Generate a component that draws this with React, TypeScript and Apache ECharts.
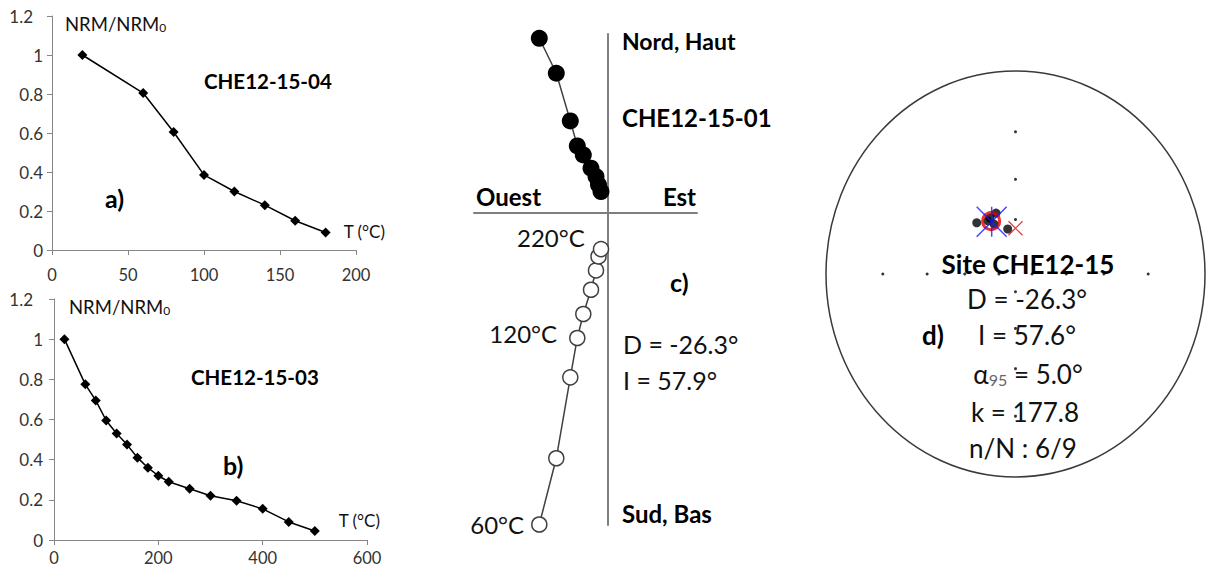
import React, { useEffect, useRef } from "react";
import * as echarts from "echarts";

// ---- Panel a: NRM/NRM0 vs T, CHE12-15-04
const A_TEMP = [20, 60, 80, 100, 120, 140, 160, 180];
const A_NRM = [1, 0.805, 0.605, 0.385, 0.3, 0.23, 0.15, 0.09];

// ---- Panel b: NRM/NRM0 vs T, CHE12-15-03
const B_TEMP = [20, 60, 80, 100, 120, 140, 160, 180, 200, 220, 260, 300, 350, 400, 450, 500];
const B_NRM = [1, 0.775, 0.695, 0.595, 0.53, 0.475, 0.41, 0.36, 0.32, 0.29, 0.255, 0.22, 0.195, 0.155, 0.09, 0.045];

// ---- Panel c: Zijderveld diagram, CHE12-15-01 (arbitrary units)
const C_STEPS = [60, 80, 100, 120, 140, 160, 180, 200, 220];
const C_EAST = [-6.87, -5.17, -3.77, -3.07, -2.47, -1.7, -1.2, -0.95, -0.7];
const C_NORTH = [17.47, 13.97, 9.2, 6.7, 5.8, 4.47, 3.63, 2.8, 2.13];
const C_UP = [-31.2, -24.57, -16.47, -12.53, -10.13, -7.7, -5.77, -4.37, -3.63];
const C_LABELLED_STEPS = [60, 120, 220];

// ---- Panel d: stereonet (Wulff), site CHE12-15
const D_SITE_DEC = [-39.0, -29.1, -24.7, -18.9, -10.5, -26.1];
const D_SITE_INC = [54.0, 56.7, 59.7, 54.8, 64.6, 55.9];
const D_MEAN = { dec: -26.3, inc: 57.6 };
const D_BLUE = { dec: -26.0, inc: 58.0 };
const D_GAD = { dec: 0, inc: 64.6 };
const NET_MARK_INC = [80, 60, 40, 20];
const NET_MARK_DEC = [0, 90, 180, 270];

// layout
const W = 1206;
const H = 574;
const FONT = "Lato";

function wulff(dec: number, inc: number): number[] {
  const r = Math.tan(((90 - inc) * Math.PI) / 360);
  const d = (dec * Math.PI) / 180;
  return [r * Math.sin(d), r * Math.cos(d)];
}

function txt(x: number, y: number, text: string, opts: any = {}) {
  const size = opts.size ?? 23;
  const weight = opts.bold ? "bold" : "normal";
  const align = opts.align ?? "left";
  return {
    type: "text",
    x,
    y,
    z: 50,
    style: {
      text,
      fontFamily: FONT,
      fontSize: size,
      fontWeight: weight,
      fill: opts.color ?? "#111",
      align,
      textAlign: align,
      verticalAlign: "middle",
      textVerticalAlign: "middle",
      rich: opts.rich,
    },
  };
}

const yLabelFormatter = (v: number) => {
  const s = String(Math.round(v * 10) / 10);
  return v > 1.1 ? "{top|" + s + "}" : s;
};

export default function App() {
  const ref = useRef<HTMLDivElement>(null);

  useEffect(() => {
    if (!ref.current) return;
    const chart = echarts.init(ref.current, undefined, { renderer: "svg" });

    const axisLineGray = { lineStyle: { color: "#868686", width: 1 } };
    const xTickLabel = { fontFamily: FONT, fontSize: 16.5, color: "#333" };
    const yTickLabel = {
      fontFamily: FONT, fontSize: 17, color: "#333", formatter: yLabelFormatter,
      rich: { top: { fontFamily: FONT, fontSize: 17, color: "#333", padding: [0, 10, 0, 0] } },
    };

    // panel d geometry
    const dGrid = { left: 826, top: 71, width: 379, height: 406 };
    const cx = dGrid.left + dGrid.width / 2;
    const cy = dGrid.top + dGrid.height / 2;

    const netMarks: number[][] = [];
    NET_MARK_DEC.forEach((dec) => NET_MARK_INC.forEach((inc) => netMarks.push(wulff(dec, inc))));

    const subRich = {
      sub: { fontFamily: FONT, fontSize: 12, verticalAlign: "bottom", lineHeight: 12, padding: [9, 0, 0, 0], fill: "#111" },
    };

    const option: any = {
      animation: false,
      textStyle: { fontFamily: FONT },
      grid: [
        { left: 52, top: 16, width: 304, height: 234 },
        { left: 54, top: 299, width: 313, height: 241 },
        { left: 474, top: 34, width: 223, height: 491 },
        { left: dGrid.left, top: dGrid.top, width: dGrid.width, height: dGrid.height },
      ],
      xAxis: [
        {
          gridIndex: 0, type: "value", min: 0, max: 200, interval: 50,
          axisLine: axisLineGray, axisTick: { show: true, length: 5, lineStyle: { color: "#868686" } },
          splitLine: { show: false }, axisLabel: { ...xTickLabel, margin: 16 },
        },
        {
          gridIndex: 1, type: "value", min: 0, max: 600, interval: 200,
          axisLine: axisLineGray, axisTick: { show: true, length: 5, lineStyle: { color: "#868686" } },
          splitLine: { show: false }, axisLabel: { ...xTickLabel, margin: 9 },
        },
        {
          gridIndex: 2, type: "value", min: -13.4, max: 8.9,
          axisLine: { show: true, onZero: true, lineStyle: { color: "#7f7f7f", width: 2 } },
          axisTick: { show: false }, axisLabel: { show: false }, splitLine: { show: false },
        },
        {
          gridIndex: 3, type: "value", min: -1, max: 1, show: false,
        },
      ],
      yAxis: [
        {
          gridIndex: 0, type: "value", min: 0, max: 1.2, interval: 0.2,
          axisLine: { show: true, ...axisLineGray }, axisTick: { show: true, length: 5, lineStyle: { color: "#868686" } },
          splitLine: { show: false }, axisLabel: { ...yTickLabel, margin: 9 },
        },
        {
          gridIndex: 1, type: "value", min: 0, max: 1.2, interval: 0.2,
          axisLine: { show: true, ...axisLineGray }, axisTick: { show: true, length: 5, lineStyle: { color: "#868686" } },
          splitLine: { show: false }, axisLabel: { ...yTickLabel, margin: 11 },
        },
        {
          gridIndex: 2, type: "value", min: -31.25, max: 17.9,
          axisLine: { show: true, onZero: true, lineStyle: { color: "#7f7f7f", width: 2 } },
          axisTick: { show: false }, axisLabel: { show: false }, splitLine: { show: false },
        },
        {
          gridIndex: 3, type: "value", min: -1, max: 1, show: false,
        },
      ],
      series: [
        {
          type: "line", xAxisIndex: 0, yAxisIndex: 0,
          data: A_TEMP.map((t, i) => [t, A_NRM[i]]),
          symbol: "diamond", symbolSize: 10,
          itemStyle: { color: "#000" }, lineStyle: { color: "#000", width: 1.5 },
        },
        {
          type: "line", xAxisIndex: 1, yAxisIndex: 1,
          data: B_TEMP.map((t, i) => [t, B_NRM[i]]),
          symbol: "diamond", symbolSize: 10,
          itemStyle: { color: "#000" }, lineStyle: { color: "#000", width: 1.5 },
        },
        {
          type: "line", xAxisIndex: 2, yAxisIndex: 2, clip: false,
          data: C_EAST.map((e, i) => [e, C_NORTH[i]]),
          symbol: "circle", symbolSize: 17,
          itemStyle: { color: "#000" }, lineStyle: { color: "#404040", width: 1.5 },
          z: 3,
        },
        {
          type: "line", xAxisIndex: 2, yAxisIndex: 2, clip: false,
          data: C_EAST.map((e, i) => {
            const step = C_STEPS[i];
            const item: any = { value: [e, C_UP[i]] };
            if (C_LABELLED_STEPS.includes(step)) {
              const off = step === 220 ? [-4, -12] : step === 120 ? [-8, -4] : [-3, 0];
              item.label = {
                show: true, position: "left", formatter: step + "°C",
                offset: off, fontFamily: FONT, fontSize: 24, color: "#111", distance: 4,
              };
            }
            return item;
          }),
          symbol: "circle", symbolSize: 15,
          itemStyle: { color: "#fff", borderColor: "#404040", borderWidth: 1.5 },
          lineStyle: { color: "#404040", width: 1.5 },
          z: 3,
        },
        {
          type: "scatter", xAxisIndex: 3, yAxisIndex: 3,
          data: netMarks, symbol: "circle", symbolSize: 3,
          itemStyle: { color: "#000" }, z: 60,
        },
        {
          type: "scatter", xAxisIndex: 3, yAxisIndex: 3,
          data: D_SITE_DEC.map((d, i) => wulff(d, D_SITE_INC[i])),
          symbol: "circle", symbolSize: 9,
          itemStyle: { color: "#000" }, z: 4,
        },
        {
          type: "scatter", xAxisIndex: 3, yAxisIndex: 3,
          data: [wulff(D_MEAN.dec, D_MEAN.inc)],
          symbol: "circle", symbolSize: 17,
          itemStyle: { color: "rgba(0,0,0,0)", borderColor: "#e00000", borderWidth: 3 }, z: 5,
        },
        {
          type: "scatter", xAxisIndex: 3, yAxisIndex: 3,
          data: [wulff(D_BLUE.dec, D_BLUE.inc)],
          symbol: "path://M0,0L10,10M10,0L0,10M5,0L5,10", symbolSize: [30, 30],
          itemStyle: { color: "rgba(0,0,0,0)", borderColor: "#1a1aff", borderWidth: 1.5 }, z: 6,
        },
        {
          type: "scatter", xAxisIndex: 3, yAxisIndex: 3,
          data: [wulff(D_GAD.dec, D_GAD.inc)],
          symbol: "path://M0,0L10,10M10,0L0,10", symbolSize: [14, 14],
          itemStyle: { color: "rgba(0,0,0,0)", borderColor: "#e00000", borderWidth: 1.2 }, z: 6,
        },
      ],
      graphic: [
        // panel a
        txt(65, 24, "NRM/NRM{sub|0}", { size: 18.5, rich: { sub: { ...subRich.sub } } }),
        txt(204, 81, "CHE12-15-04", { size: 20.5, bold: true, color: "#000" }),
        txt(105, 198, "a)", { size: 25, bold: true, color: "#000" }),
        txt(385, 231, "T (°C)", { size: 17, align: "right" }),
        // panel b
        txt(69, 307, "NRM/NRM{sub|0}", { size: 18.5, rich: { sub: { ...subRich.sub } } }),
        txt(191, 377, "CHE12-15-03", { size: 20.5, bold: true, color: "#000" }),
        txt(223, 465, "b)", { size: 25, bold: true, color: "#000" }),
        txt(380, 520, "T (°C)", { size: 17, align: "right" }),
        // panel c
        txt(622, 41, "Nord, Haut", { size: 23, bold: true, color: "#000" }),
        txt(622, 117, "CHE12-15-01", { size: 24, bold: true, color: "#000" }),
        txt(476, 196, "Ouest", { size: 24, bold: true, color: "#000" }),
        txt(696, 196, "Est", { size: 24, bold: true, color: "#000", align: "right" }),
        txt(670, 282, "c)", { size: 25, bold: true, color: "#000" }),
        txt(623, 344, "D = -26.3°", { size: 25 }),
        txt(623, 380, "I = 57.9°", { size: 25 }),
        txt(622, 513, "Sud, Bas", { size: 24, bold: true, color: "#000" }),
        // panel d
        {
          type: "ellipse", z: 1,
          shape: { cx, cy, rx: dGrid.width / 2, ry: dGrid.height / 2 },
          style: { fill: "none", stroke: "#3a3a3a", lineWidth: 1.5 },
        },
        txt(1028, 264, "Site CHE12-15", { size: 26, bold: true, color: "#000", align: "center" }),
        txt(1027, 299, "D = -26.3°", { size: 26, align: "center" }),
        txt(1027, 335, "I = 57.6°", { size: 26, align: "center" }),
        txt(1028, 374, "α{s|95} = 5.0°", {
          size: 26, align: "center",
          rich: { s: { fontFamily: FONT, fontSize: 16, fill: "#666", verticalAlign: "bottom", lineHeight: 16, padding: [11, 0, 0, 0] } },
        }),
        txt(1025, 412, "k = 177.8", { size: 26, align: "center" }),
        txt(1023, 448, "n/N : 6/9", { size: 26, align: "center" }),
        txt(922, 335, "d)", { size: 26, bold: true, color: "#000" }),
      ],
    };

    chart.setOption(option);
    return () => chart.dispose();
  }, []);

  return (
    <div
      ref={ref}
      style={{ position: "absolute", left: 0, top: 0, width: W, height: H, background: "#fff" }}
    />
  );
}
